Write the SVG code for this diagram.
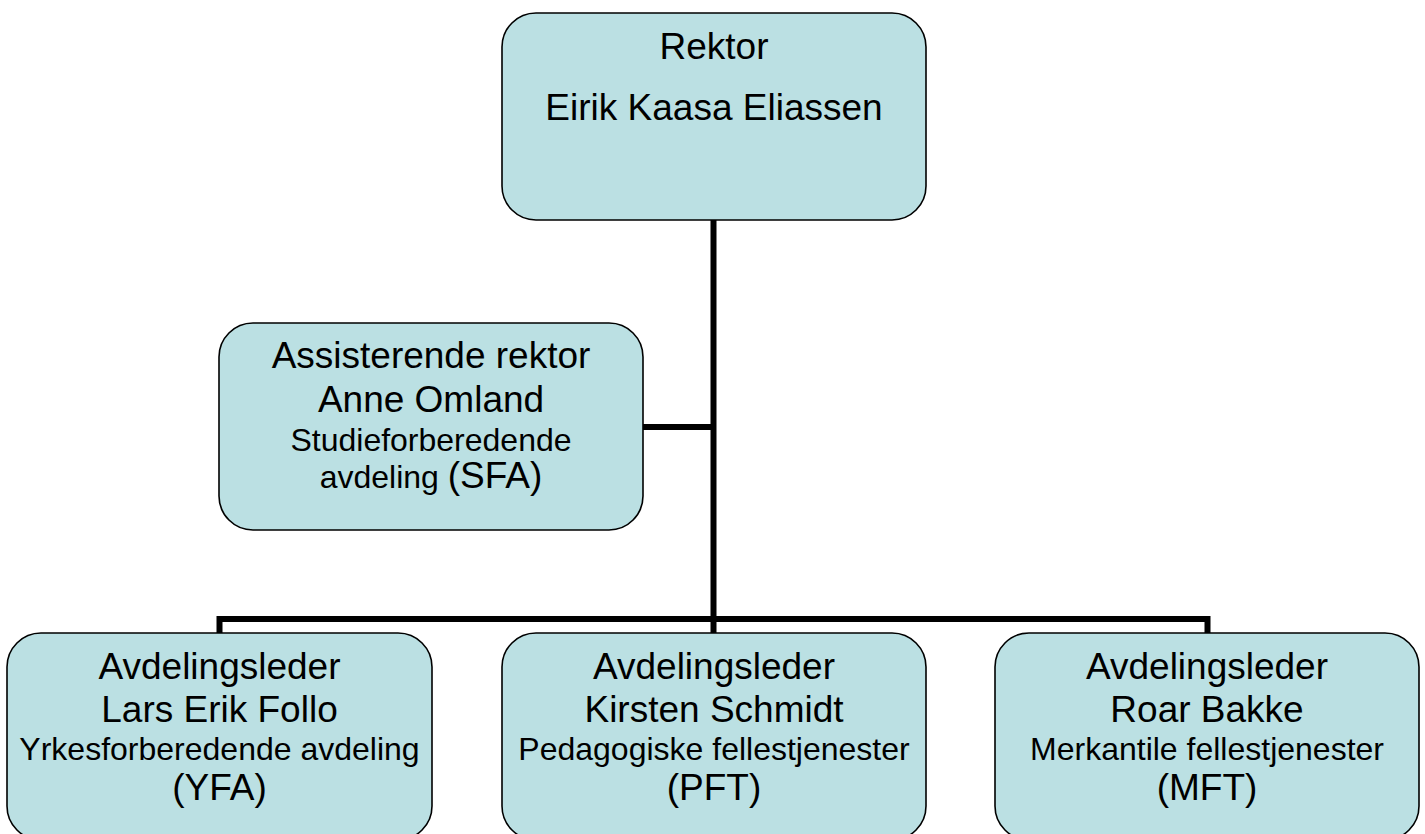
<svg xmlns="http://www.w3.org/2000/svg" width="1425" height="834" viewBox="0 0 1425 834">
<style>
.box{fill:#BBE0E3;stroke:#000;stroke-width:1.6}
.t{font-family:"Liberation Sans",Arial,sans-serif;fill:#000;text-anchor:middle}
.l{font-size:37px}
.s{font-size:32px}
.c{stroke:#000;stroke-width:6;fill:none;stroke-linecap:butt;stroke-linejoin:miter}
</style>
<rect width="1425" height="834" fill="#fff"/>
<g id="connectors">
<path class="c" d="M713.5,219 V633"/>
<path class="c" d="M643,427 H713.5"/>
<path class="c" d="M219.5,633 V619 H1207.5 V633"/>
</g>
<g id="rektor">
<rect class="box" x="502" y="13" width="424" height="207" rx="34" ry="34"/>
<text class="t l" x="714" y="59">Rektor</text>
<text class="t l" x="714" y="120">Eirik Kaasa Eliassen</text>
</g>
<g id="assisterende">
<rect class="box" x="219" y="323" width="424" height="207" rx="34" ry="34"/>
<text class="t l" x="431" y="368">Assisterende rektor</text>
<text class="t l" x="431" y="412">Anne Omland</text>
<text class="t s" x="431" y="451">Studieforberedende</text>
<text class="t s" x="431" y="488">avdeling <tspan class="l">(SFA)</tspan></text>
</g>
<g id="yfa">
<rect class="box" x="7" y="633" width="425" height="207" rx="34" ry="34"/>
<text class="t l" x="219.5" y="679">Avdelingsleder</text>
<text class="t l" x="219.5" y="722">Lars Erik Follo</text>
<text class="t s" x="219.5" y="760">Yrkesforberedende avdeling</text>
<text class="t l" x="219.5" y="800">(YFA)</text>
</g>
<g id="pft">
<rect class="box" x="502" y="633" width="424" height="207" rx="34" ry="34"/>
<text class="t l" x="714" y="679">Avdelingsleder</text>
<text class="t l" x="714" y="722">Kirsten Schmidt</text>
<text class="t s" x="714" y="760">Pedagogiske fellestjenester</text>
<text class="t l" x="714" y="800">(PFT)</text>
</g>
<g id="mft">
<rect class="box" x="995" y="633" width="424" height="207" rx="34" ry="34"/>
<text class="t l" x="1207" y="679">Avdelingsleder</text>
<text class="t l" x="1207" y="722">Roar Bakke</text>
<text class="t s" x="1207" y="760">Merkantile fellestjenester</text>
<text class="t l" x="1207" y="800">(MFT)</text>
</g>
</svg>
